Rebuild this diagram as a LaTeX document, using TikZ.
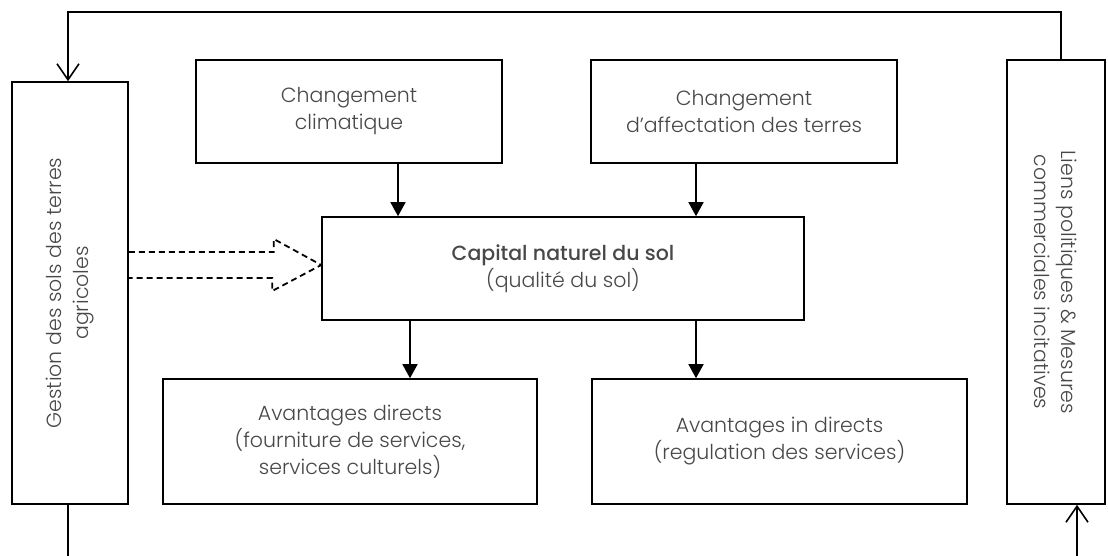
\documentclass[tikz,border=0pt]{standalone}
\usepackage{fontspec}
\setmainfont{Poppins}[UprightFont={* Light}, BoldFont={* Medium}]
\usepackage{tikz}
\usetikzlibrary{positioning, arrows.meta, calc}
\definecolor{txtgray}{HTML}{484848}

\begin{document}
\begin{tikzpicture}[x=1pt, y=-1pt, line width=1.6pt, font=\fontsize{20.5}{27}\selectfont]
\tikzstyle{box}=[draw=black, rectangle, align=center, text=txtgray, inner sep=0pt]
\tikzstyle{flow}=[-{Triangle[length=14pt, width=15pt]}]
\tikzstyle{loop}=[-{Straight Barb[length=16pt, width=22pt]}]
\tikzstyle{hollow}=[dash pattern=on 6pt off 4pt, line width=1.8pt]
\useasboundingbox (0,0) rectangle (1108,556);

\node[box, minimum width=482, minimum height=103] (capital) at (563,268.5) {\textbf{Capital naturel du sol}\\(qualité du sol)};
\node[box, minimum width=306, minimum height=103] (climat) at (349,111.5) {Changement\\climatique};
\node[box, minimum width=306, minimum height=103] (affect) at (744,111.5) {Changement\\d’affectation des terres};
\node[box, minimum width=374, minimum height=125] (directs) at (350,441.5) {Avantages directs\\(fourniture de services,\\services culturels)};
\node[box, minimum width=375, minimum height=125] (indirects) at (779.5,441.5) {Avantages in directs\\(regulation des services)};
\node[box, rotate=90, minimum width=422, minimum height=116] (gestion) at (70,293) {Gestion des sols des terres\\agricoles};
\node[box, rotate=-90, minimum width=444, minimum height=98] (liens) at (1056,282) {Liens politiques \& Mesures\\commerciales incitatives};

\coordinate (tip) at ([yshift=3.5pt]capital.west);
\coordinate (gout) at ([xshift=-2pt]gestion.west |- 0,556);
\coordinate (lin) at (1077,556);

% dashed hollow arrow
\draw[hollow] ($(gestion.south |- tip)+(0,-13)$) -- ++(145,0) -- ++(0,-13) -- (tip) -- ++(-49,26) -- ++(0,-13) -- ++(-145,0);

\path[flow]
([xshift=49pt]climat.south) edge ([xshift=49pt]climat.south |- capital.north)
([xshift=-48pt]affect.south) edge ([xshift=-48pt]affect.south |- capital.north)
([xshift=-153pt]capital.south) edge ([xshift=-153pt]capital.south |- directs.north)
([xshift=133pt]capital.south) edge ([xshift=133pt]capital.south |- indirects.north);

\draw[loop] ([xshift=5pt]liens.west) -- ++(0,-47) -| ([xshift=-2pt]gestion.east);
\draw ([xshift=-2pt]gestion.west) -- (gout);
\draw[loop] (lin) -- (lin |- liens.east);
\end{tikzpicture}
\end{document}
